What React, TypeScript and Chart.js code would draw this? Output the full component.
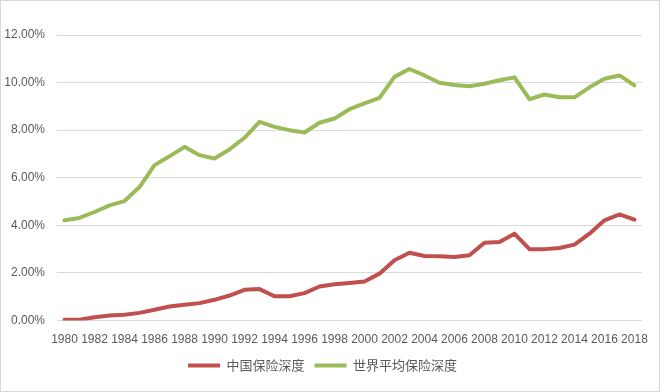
import React, { useEffect, useRef } from "react";
import { Chart, registerables } from "chart.js";

Chart.register(...registerables);

const years: string[] = [];
for (let y = 1980; y <= 2018; y++) years.push(String(y));

const chinaDepth = [
  0.03, 0.03, 0.14, 0.21, 0.24, 0.32, 0.45, 0.59, 0.66, 0.73,
  0.87, 1.05, 1.29, 1.32, 1.02, 1.02, 1.15, 1.43, 1.52, 1.58,
  1.64, 1.97, 2.53, 2.85, 2.71, 2.7, 2.67, 2.74, 3.27, 3.3,
  3.65, 3.0, 3.0, 3.05, 3.19, 3.65, 4.21, 4.46, 4.24,
];

const worldDepth = [
  4.21, 4.31, 4.56, 4.84, 5.02, 5.61, 6.53, 6.9, 7.3, 6.95,
  6.81, 7.19, 7.68, 8.35, 8.14, 8.0, 7.9, 8.31, 8.49, 8.88,
  9.13, 9.36, 10.24, 10.57, 10.3, 9.99, 9.9, 9.85, 9.95, 10.1,
  10.22, 9.3, 9.5, 9.38, 9.38, 9.8, 10.16, 10.3, 9.88,
];

const seriesNames = ["中国保险深度", "世界平均保险深度"];
const yMin = 0;
const yMax = 12;
const yStep = 2;

const borderPlugin = {
  id: "outerBorder",
  afterDraw(chart: any) {
    const ctx = chart.ctx;
    ctx.save();
    ctx.strokeStyle = "#d9d9d9";
    ctx.lineWidth = 1;
    ctx.strokeRect(0.5, 0.5, chart.width - 1, chart.height - 1);
    ctx.restore();
  },
};

export default function App() {
  const ref = useRef<HTMLCanvasElement | null>(null);

  useEffect(() => {
    if (!ref.current) return;
    const tickFont = { family: "'Liberation Sans', Arial, sans-serif", size: 12 };
    const chart = new Chart(ref.current, {
      type: "line",
      data: {
        labels: years,
        datasets: [
          {
            label: seriesNames[0],
            data: chinaDepth,
            borderColor: "#c0504d",
            backgroundColor: "#c0504d",
            borderWidth: 4,
            pointRadius: 0,
            borderJoinStyle: "round",
            borderCapStyle: "round",
            tension: 0,
          },
          {
            label: seriesNames[1],
            data: worldDepth,
            borderColor: "#9bbb59",
            backgroundColor: "#9bbb59",
            borderWidth: 4,
            pointRadius: 0,
            borderJoinStyle: "round",
            borderCapStyle: "round",
            tension: 0,
          },
        ],
      },
      options: {
        responsive: false,
        animation: false,
        devicePixelRatio: 1,
        layout: { padding: { top: 35, left: 0, right: 15, bottom: 10 } },
        plugins: {
          tooltip: { enabled: false },
          legend: {
            position: "bottom",
            labels: {
              usePointStyle: true,
              pointStyle: "line",
              pointStyleWidth: 32,
              boxHeight: 13,
              padding: 10,
              color: "#595959",
              font: { family: "'Noto Sans CJK SC', sans-serif", size: 13 },
            },
          },
        },
        scales: {
          x: {
            offset: true,
            grid: { display: false, drawTicks: false },
            border: { display: false },
            ticks: {
              autoSkip: false,
              maxRotation: 0,
              minRotation: 0,
              padding: 12,
              color: "#595959",
              font: tickFont,
              callback: (_v: any, i: number) => (i % 2 === 0 ? years[i] : ""),
            },
            afterFit: (scale: any) => {
              scale.height = 28.5;
            },
          },
          y: {
            min: yMin,
            max: yMax,
            grid: { color: "#d9d9d9", lineWidth: 1, drawTicks: false },
            border: { display: false },
            ticks: {
              stepSize: yStep,
              padding: 12,
              color: "#595959",
              font: tickFont,
              callback: (v: any) => Number(v).toFixed(2) + "%",
            },
            afterFit: (scale: any) => {
              scale.width = 57;
            },
          },
        },
      },
      plugins: [borderPlugin],
    } as any);
    return () => chart.destroy();
  }, []);

  return (
    <div style={{ position: "fixed", left: 0, top: 0, width: 660, height: 392, background: "#fff" }}>
      <canvas ref={ref} width={660} height={392} style={{ display: "block" }} />
    </div>
  );
}
